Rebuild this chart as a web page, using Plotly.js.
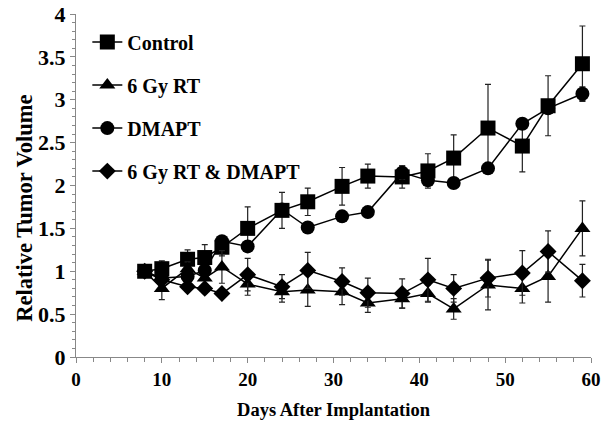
<!DOCTYPE html>
<html>
<head>
<meta charset="utf-8">
<script src="https://cdn.plot.ly/plotly-3.0.1.min.js"></script>
<style>html,body{margin:0;padding:0;background:#fff;}#chart{width:605px;height:427px;}</style>
</head>
<body>
<div id="chart"></div>
<script>
const days = [8, 10, 13, 15, 17, 20, 24, 27, 31, 34, 38, 41, 44, 48, 52, 55, 59];

const controlVals = [1.00, 1.03, 1.14, 1.16, 1.28, 1.50, 1.71, 1.81, 1.99, 2.11, 2.10, 2.17, 2.32, 2.67, 2.46, 2.93, 3.42];
const controlErr  = [0.00, 0.09, 0.11, 0.15, 0.10, 0.25, 0.21, 0.16, 0.22, 0.14, 0.13, 0.20, 0.27, 0.51, 0.30, 0.35, 0.44];

const rtVals = [1.00, 0.80, 1.03, 0.92, 1.05, 0.85, 0.76, 0.78, 0.76, 0.63, 0.68, 0.74, 0.56, 0.84, 0.80, 0.94, 1.50];
const rtErr  = [0.00, 0.13, 0.08, 0.08, 0.19, 0.13, 0.12, 0.19, 0.15, 0.11, 0.11, 0.10, 0.12, 0.29, 0.17, 0.30, 0.32];

const dmaptVals = [1.00, 0.92, 0.94, 1.01, 1.35, 1.29, 1.72, 1.51, 1.64, 1.69, 2.15, 2.06, 2.03, 2.20, 2.72, 2.90, 3.07];
const dmaptErr  = [0.00, 0.04, 0.04, 0.04, 0.05, 0.05, 0.05, 0.05, 0.05, 0.05, 0.08, 0.05, 0.05, 0.05, 0.05, 0.05, 0.08];

const comboVals = [1.00, 0.90, 0.82, 0.80, 0.74, 0.96, 0.82, 1.01, 0.88, 0.75, 0.74, 0.90, 0.80, 0.92, 0.98, 1.23, 0.89];
const comboErr  = [0.00, 0.05, 0.05, 0.05, 0.05, 0.19, 0.14, 0.21, 0.16, 0.17, 0.17, 0.25, 0.16, 0.22, 0.26, 0.24, 0.19];

const seriesNames = ["Control", "6 Gy RT", "DMAPT", "6 Gy RT & DMAPT"];
const xTicks = [0, 10, 20, 30, 40, 50, 60];
const yTicks = [0, 0.5, 1, 1.5, 2, 2.5, 3, 3.5, 4];
const yTickText = ["0", "0.5", "1", "1.5", "2", "2.5", "3", "3.5", "4"];
const xTitle = 'Days After Implantation';
const yTitle = 'Relative Tumor Volume';

function mk(name, vals, errs, symbol, size, group) {
  return {
    x: days, y: vals, name: name, type: 'scatter', mode: 'lines+markers',
    legendgroup: group,
    line: {color: '#000', width: 1.5},
    marker: {symbol: symbol, size: size, color: '#000'},
    error_y: {type: 'data', array: errs, visible: true, color: '#222', thickness: 1.2, width: 3},
    cliponaxis: false
  };
}

const data = [
  mk(seriesNames[0], controlVals, controlErr, 'square', 15, 'g1'),
  mk(seriesNames[1], rtVals, rtErr, 'triangle-up', 14, 'g2'),
  mk(seriesNames[2], dmaptVals, dmaptErr, 'circle', 14, 'g3'),
  mk(seriesNames[3], comboVals, comboErr, 'diamond', 13, 'g4')
];

const fam = 'Liberation Serif, Times New Roman, serif';
const bold = (s) => ({family: fam, size: s, weight: 'bold', color: '#000'});

const layout = {
  width: 605, height: 427,
  margin: {l: 76, r: 14, t: 14, b: 70},
  paper_bgcolor: '#fff', plot_bgcolor: '#fff',
  font: {family: fam, color: '#000'},
  showlegend: true,
  legend: {
    x: 0.022, y: 0.975, xanchor: 'left', yanchor: 'top',
    bgcolor: 'rgba(0,0,0,0)',
    font: bold(20),
    tracegroupgap: 14,
    itemwidth: 30
  },
  xaxis: {
    range: [0, 60], tickvals: xTicks, ticktext: xTicks.map(String),
    showgrid: false, zeroline: false,
    showline: true, linecolor: '#888', linewidth: 1,
    ticks: 'outside', ticklen: 5, tickcolor: '#888',
    minor: {dtick: 2, ticks: 'outside', ticklen: 4, tickcolor: '#888', showgrid: false},
    tickfont: bold(19),
    title: {text: xTitle, font: bold(18.5), standoff: 14}
  },
  yaxis: {
    range: [0, 4], tickvals: yTicks, ticktext: yTickText,
    showgrid: false, zeroline: false,
    showline: true, linecolor: '#888', linewidth: 1,
    ticks: 'outside', ticklen: 5, tickcolor: '#888',
    minor: {dtick: 0.1, ticks: 'outside', ticklen: 3, tickcolor: '#888', showgrid: false},
    tickfont: bold(22),
    title: {text: ''}
  },
  annotations: [
    {
      x: -0.1, y: 0.434, xref: 'paper', yref: 'paper',
      text: yTitle, textangle: -90, showarrow: false,
      xanchor: 'center', yanchor: 'middle',
      font: bold(22.5)
    },
    {
      x: 60.8, y: comboVals[comboVals.length - 1], xref: 'x', yref: 'y',
      text: '*', showarrow: false, xanchor: 'left', yanchor: 'middle',
      font: {family: fam, size: 20, color: '#000'}
    }
  ]
};

Plotly.newPlot('chart', data, layout, {displayModeBar: false, staticPlot: true});
</script>
</body>
</html>
